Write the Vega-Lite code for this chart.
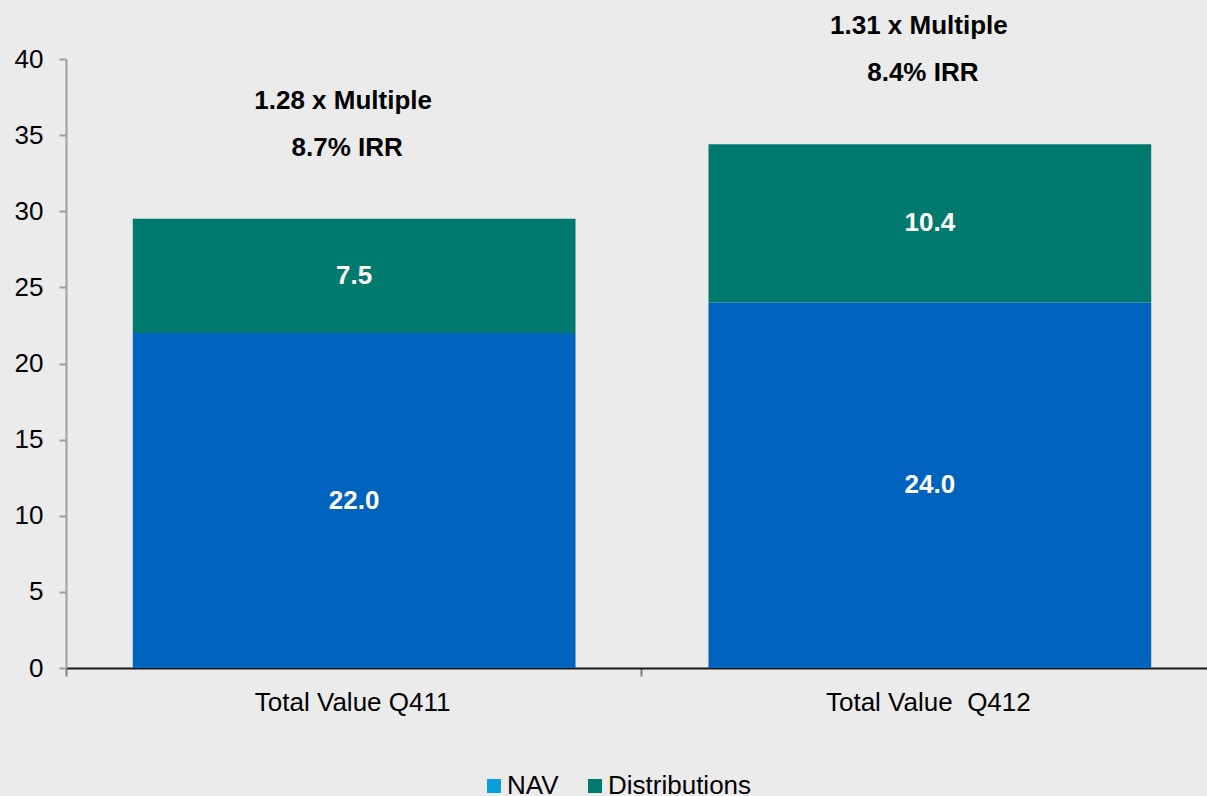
{
  "$schema": "https://vega.github.io/schema/vega-lite/v6.json",
  "autosize": {"type": "none"},
  "padding": {"left": 66, "top": 59, "right": 0, "bottom": 128},
  "width": 1141,
  "height": 609,
  "background": "#ebebeb",
  "config": {
    "view": {"stroke": null},
    "font": "Liberation Sans",
    "text": {"font": "Liberation Sans"}
  },
  "datasets": {
    "notes": [
      {"cat": "Total Value Q411", "multiple": "1.28 x Multiple", "irr": "8.7% IRR"},
      {"cat": "Total Value \u00a0Q412", "multiple": "1.31 x Multiple", "irr": "8.4% IRR"}
    ]
  },
  "data": {
    "values": [
      {"cat": "Total Value Q411", "series": "NAV", "value": 22.0},
      {"cat": "Total Value Q411", "series": "Distributions", "value": 7.5},
      {"cat": "Total Value \u00a0Q412", "series": "NAV", "value": 24.0},
      {"cat": "Total Value \u00a0Q412", "series": "Distributions", "value": 10.4}
    ]
  },
  "transform": [
    {"stack": "value", "groupby": ["cat"], "sort": [{"field": "series", "order": "descending"}], "as": ["lo", "hi"]}
  ],
  "encoding": {
    "x": {
      "field": "cat",
      "type": "nominal",
      "sort": null,
      "title": null,
      "scale": {"range": [0, 1152], "paddingInner": 0.231, "paddingOuter": 0.116},
      "axis": {
        "labelAngle": 0,
        "labelFont": "Liberation Sans",
        "labelFontSize": 26,
        "labelColor": "#000000",
        "labelPadding": 13,
        "labelLimit": 0,
        "bandPosition": 0,
        "tickOffset": -67,
        "labelOffset": 65,
        "tickSize": 8,
        "tickWidth": 2,
        "tickColor": "#7f7f7f",
        "domainColor": "#1a1a1a",
        "domainWidth": 2,
        "grid": false
      }
    }
  },
  "resolve": {"scale": {"color": "independent"}, "legend": {"color": "independent"}},
  "layer": [
    {
      "mark": {"type": "bar"},
      "encoding": {
        "y": {
          "field": "lo",
          "type": "quantitative",
          "title": null,
          "scale": {"domain": [0, 40], "nice": false},
          "axis": {
            "values": [0, 5, 10, 15, 20, 25, 30, 35, 40],
            "labelFont": "Liberation Sans",
            "labelFontSize": 26,
            "labelColor": "#000000",
            "labelPadding": 16,
            "tickSize": 7,
            "tickWidth": 2,
            "tickColor": "#a0a0a0",
            "domainColor": "#a0a0a0",
            "domainWidth": 2,
            "grid": false
          }
        },
        "y2": {"field": "hi"},
        "color": {
          "field": "series",
          "type": "nominal",
          "scale": {"domain": ["NAV", "Distributions"], "range": ["#0063be", "#007a6e"]},
          "legend": null
        }
      }
    },
    {
      "mark": {"type": "square", "opacity": 0},
      "encoding": {
        "y": {"field": "lo", "type": "quantitative"},
        "color": {
          "field": "series",
          "type": "nominal",
          "scale": {"domain": ["NAV", "Distributions"], "range": ["#0b9fdc", "#007a6e"]},
          "legend": {
            "title": null,
            "orient": "none",
            "direction": "horizontal",
            "legendX": 415,
            "legendY": 714,
            "padding": 0,
            "symbolType": "square",
            "symbolSize": 196,
            "symbolOpacity": 1,
            "symbolStrokeWidth": 0,
            "labelFont": "Liberation Sans",
            "labelFontSize": 26,
            "labelColor": "#000000",
            "labelOffset": 0,
            "columnPadding": 23,
            "encode": {"symbols": {"update": {"opacity": {"value": 1}, "fillOpacity": {"value": 1}}}}
          }
        }
      }
    },
    {
      "transform": [
        {"fold": ["lo", "hi"], "as": ["k", "v"]},
        {"aggregate": [{"op": "mean", "field": "v", "as": "mid"}], "groupby": ["cat", "series", "value"]}
      ],
      "mark": {"type": "text", "color": "#ffffff", "fontWeight": "bold", "fontSize": 26, "baseline": "middle", "font": "Liberation Sans"},
      "encoding": {
        "y": {"field": "mid", "type": "quantitative"},
        "text": {"field": "value", "type": "quantitative", "format": ".1f"}
      }
    },
    {
      "transform": [
        {"aggregate": [{"op": "max", "field": "hi", "as": "total"}], "groupby": ["cat"]},
        {"lookup": "cat", "from": {"data": {"name": "notes"}, "key": "cat", "fields": ["multiple", "irr"]}}
      ],
      "mark": {"type": "text", "color": "#000000", "fontWeight": "bold", "fontSize": 26, "baseline": "middle", "font": "Liberation Sans", "dy": -118, "dx": -11},
      "encoding": {
        "y": {"field": "total", "type": "quantitative"},
        "text": {"field": "multiple"}
      }
    },
    {
      "transform": [
        {"aggregate": [{"op": "max", "field": "hi", "as": "total"}], "groupby": ["cat"]},
        {"lookup": "cat", "from": {"data": {"name": "notes"}, "key": "cat", "fields": ["multiple", "irr"]}}
      ],
      "mark": {"type": "text", "color": "#000000", "fontWeight": "bold", "fontSize": 26, "baseline": "middle", "font": "Liberation Sans", "dy": -71, "dx": -7},
      "encoding": {
        "y": {"field": "total", "type": "quantitative"},
        "text": {"field": "irr"}
      }
    }
  ]
}
